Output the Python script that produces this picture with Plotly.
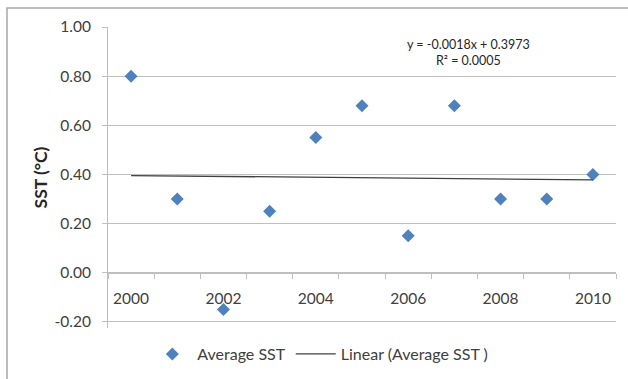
import plotly.graph_objects as go

# Annual average sea surface temperature
years = [2000, 2001, 2002, 2003, 2004, 2005, 2006, 2007, 2008, 2009, 2010]
avg_sst = [0.80, 0.30, -0.15, 0.25, 0.55, 0.68, 0.15, 0.68, 0.30, 0.30, 0.40]

# Linear trend (category index 1..n)
slope = -0.0018
intercept = 0.3973
r_squared = 0.0005

y_ticks = [-0.2, 0.0, 0.2, 0.4, 0.6, 0.8, 1.0]

idx = list(range(1, len(years) + 1))
trend = [slope * i + intercept for i in idx]

FONT = "Lato"
GRID = "#bfbfbf"
TEXT = "#404040"

ymin, ymax = y_ticks[0], y_ticks[-1]
xr = [0.5, len(years) + 0.5]
# keep the lowest gridline inside the value range so it is drawn like the others
y_range = [ymin - 0.025, ymax]
zero_pos = (0 - y_range[0]) / (y_range[1] - y_range[0])

fig = go.Figure()
fig.add_trace(go.Scatter(
    x=idx, y=avg_sst, mode="markers", name="Average SST",
    marker=dict(symbol="diamond", size=10, color="#4F81BD"),
    cliponaxis=False,
))
fig.add_trace(go.Scatter(
    x=idx, y=trend, mode="lines", name="Linear (Average SST )",
    line=dict(color="#404040", width=1.3),
))
# invisible trace so the boundary tick axis is drawn
fig.add_trace(go.Scatter(
    x=[idx[0]], y=[0], xaxis="x2", mode="markers",
    marker=dict(opacity=0), showlegend=False, hoverinfo="skip",
))

fig.update_layout(
    width=628, height=379,
    margin=dict(l=108, r=12, t=27, b=51, autoexpand=False),
    paper_bgcolor="white", plot_bgcolor="white",
    font=dict(family=FONT, size=15.5, color=TEXT),
    showlegend=True,
    legend=dict(orientation="h", x=0.418, xanchor="center",
                yref="container", y=1 - 354 / 379, yanchor="middle",
                bgcolor="rgba(0,0,0,0)", traceorder="normal",
                font=dict(size=16, color=TEXT), itemwidth=40),
    xaxis=dict(
        range=xr, anchor="free", position=zero_pos,
        tickvals=idx[::2], ticktext=[str(y) for y in years[::2]],
        ticks="", showgrid=False, zeroline=False,
        showline=True, linecolor=GRID, linewidth=1,
        tickfont=dict(size=15.5, color=TEXT), ticklabelstandoff=12,
    ),
    xaxis2=dict(
        range=xr, overlaying="x", anchor="free", position=zero_pos,
        tickvals=[i + 0.5 for i in range(0, len(years) + 1)],
        showticklabels=False, ticks="outside", ticklen=5, tickcolor=GRID,
        showgrid=False, zeroline=False, showline=False,
    ),
    yaxis=dict(
        range=y_range, tickvals=y_ticks,
        ticktext=[f"{v:.2f}" for v in y_ticks],
        ticks="outside", ticklen=5, tickcolor=GRID,
        showgrid=True, gridcolor=GRID, gridwidth=1, zeroline=False,
        showline=True, linecolor=GRID, linewidth=1,
        title=dict(text="<b>SST (°C)</b>", font=dict(size=17.5, color="#262626"), standoff=2),
        tickfont=dict(size=15.5, color=TEXT), ticklabelstandoff=8,
    ),
    annotations=[dict(
        x=0.71, y=0.915, xref="paper", yref="paper", xanchor="center", yanchor="middle",
        text=f"y = {slope:.4f}x + {intercept:.4f}<br>R² = {r_squared:.4f}",
        showarrow=False, align="center", font=dict(size=12.5, color="#262626"),
    )],
    shapes=[
        dict(
            type="rect", xref="paper", yref="paper",
            x0=(7 - 108) / 508, x1=(640 - 108) / 508,
            y0=-0.25, y1=(328 - 8) / 301,
            line=dict(color="#a6a6a6", width=1.5), layer="below",
        ),
    ],
)

fig.write_html("out.html")
